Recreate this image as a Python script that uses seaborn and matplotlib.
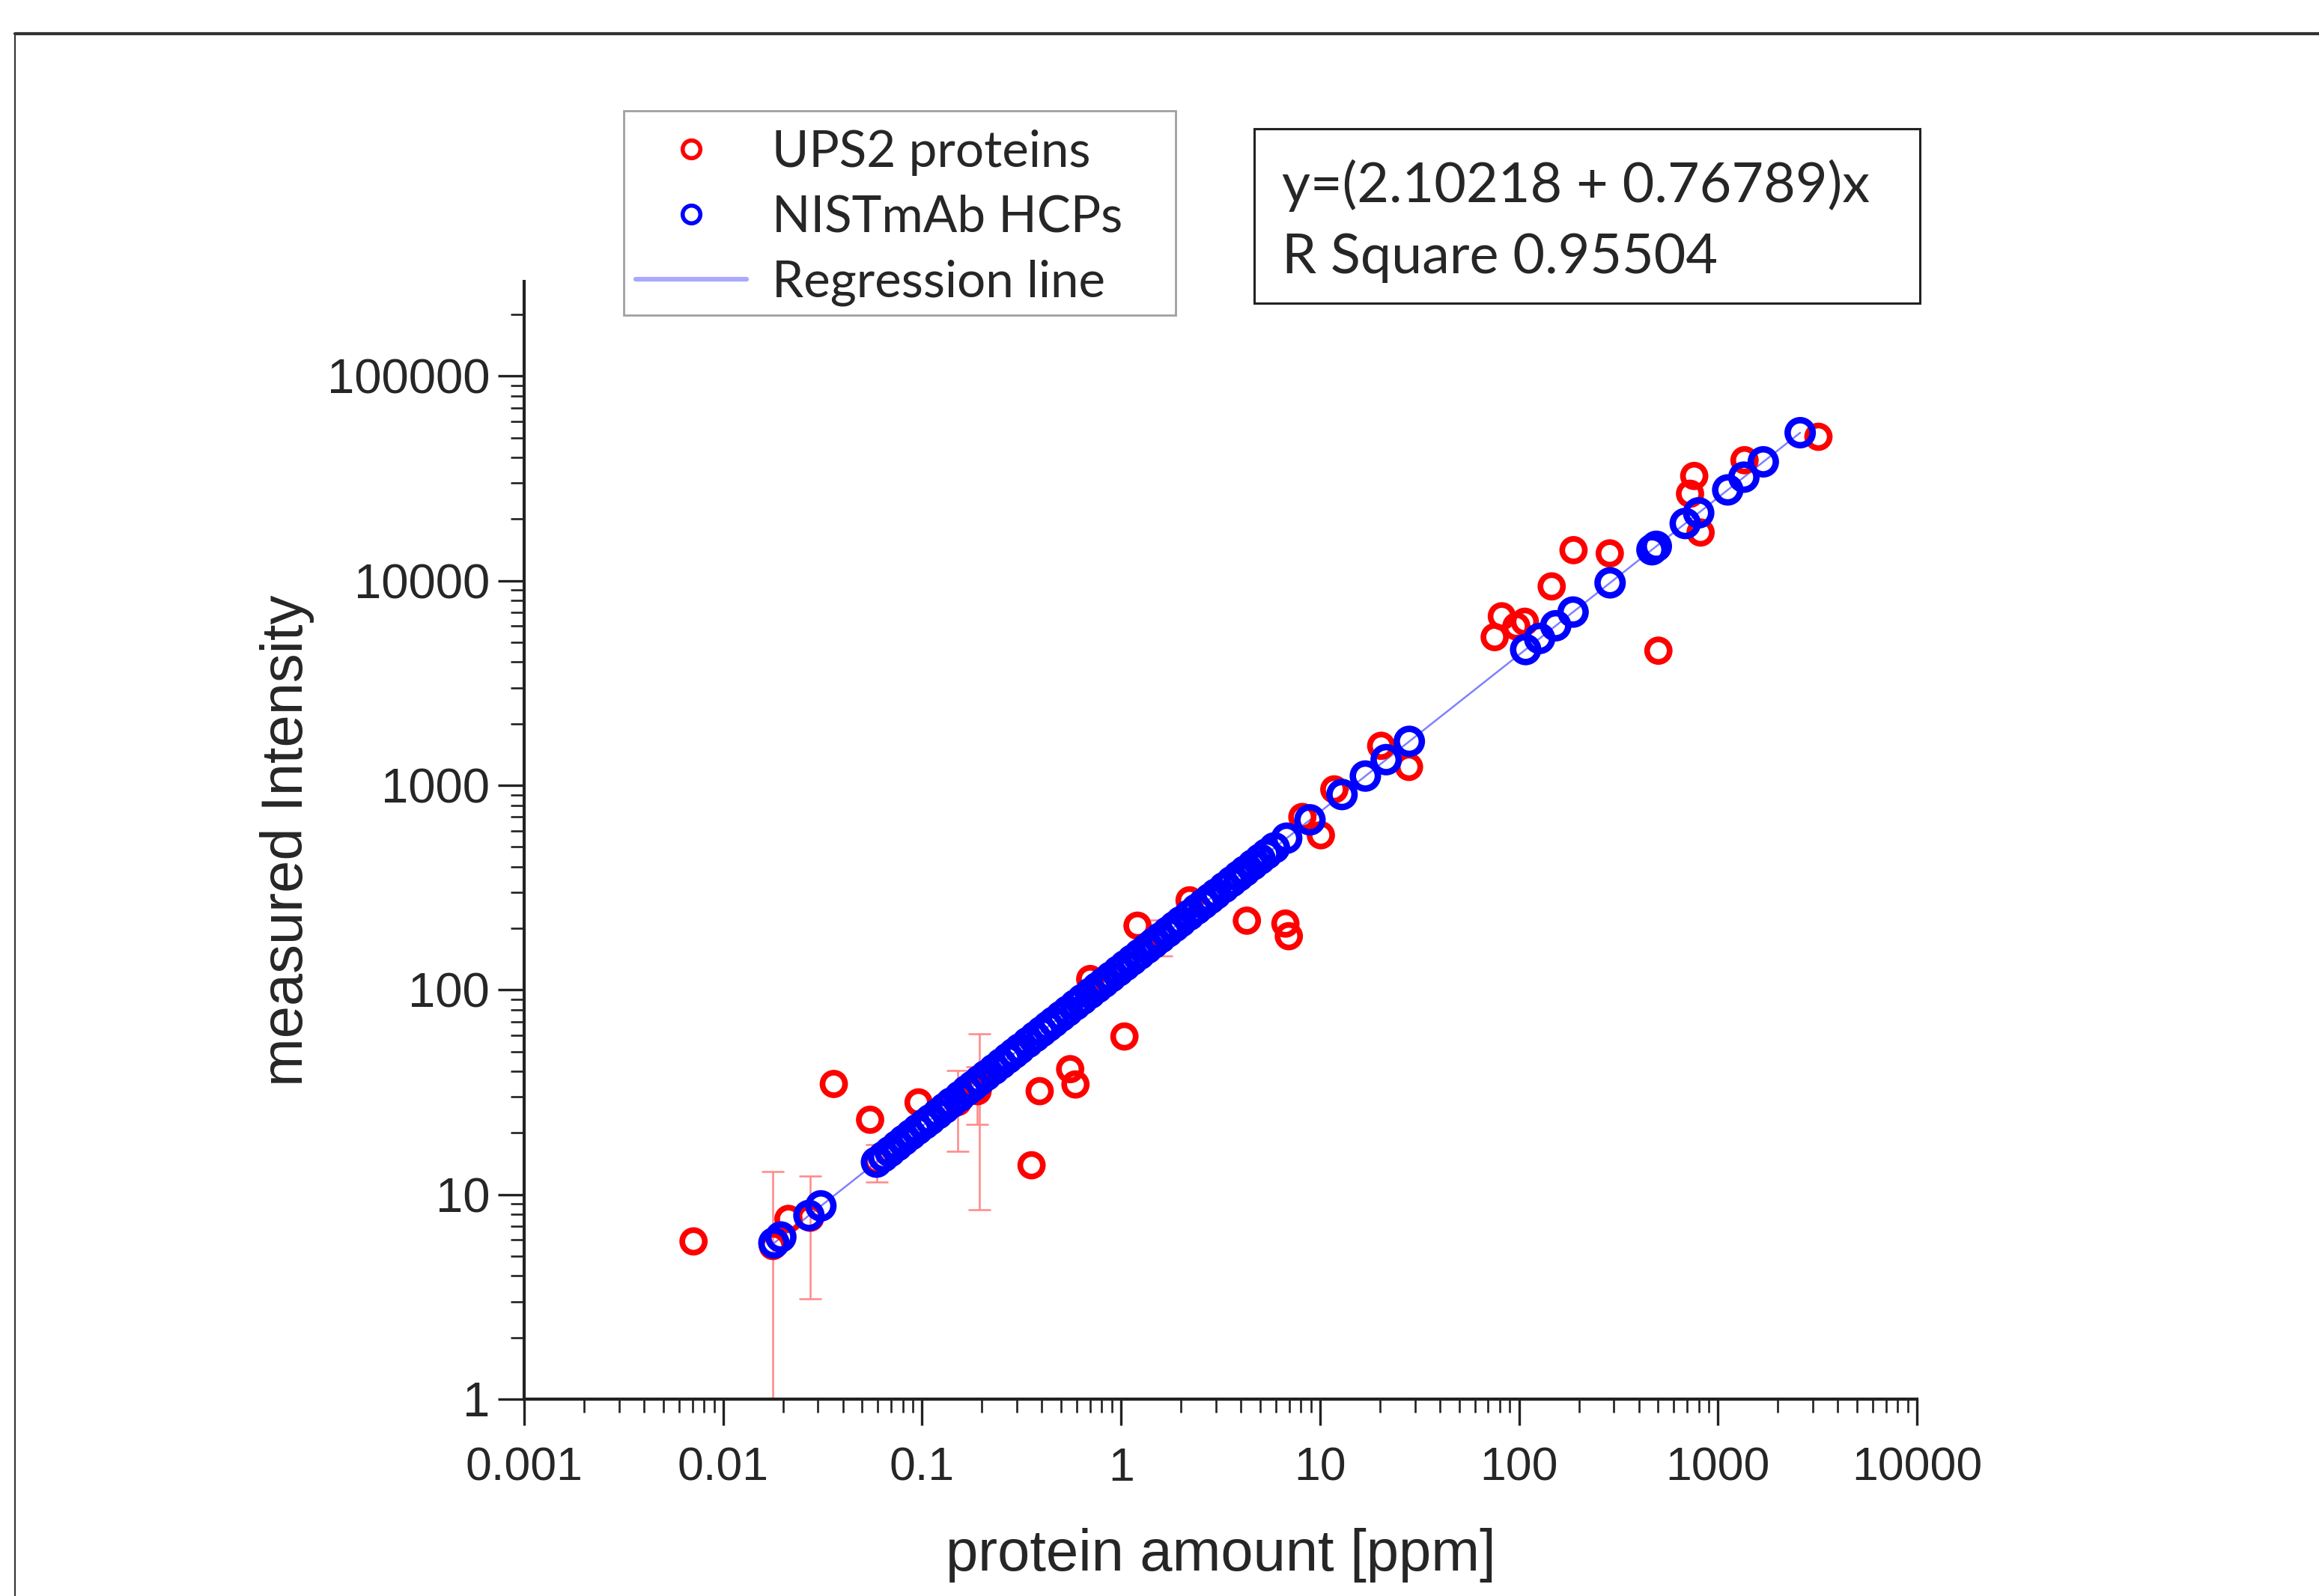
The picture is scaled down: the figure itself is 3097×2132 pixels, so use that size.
import numpy as np
import matplotlib
matplotlib.use("Agg")
import matplotlib.pyplot as plt
from matplotlib.lines import Line2D
from matplotlib.patches import Rectangle
from matplotlib.ticker import FixedLocator, LogLocator, NullFormatter
import seaborn as sns

#%% DATA
# UPS2 spike-in proteins (red)
ups2_amount = [0.0071, 0.0178, 0.0213, 0.0274, 0.036, 0.0548, 0.059, 0.096, 0.151, 0.19,
               0.194, 0.355, 0.39, 0.555, 0.59, 0.70, 1.04, 1.21, 1.6, 2.21,
               4.29, 6.7, 6.97, 8.15, 10.1, 11.8, 20.3, 28.0, 75.5, 82,
               97, 107, 146, 188, 286, 502, 724, 760, 818, 1360, 3200]
ups2_intensity = [5.9, 5.6, 7.6, 7.7, 34.7, 23.2, 14.5, 28.2, 28.3, 32,
                  34.7, 13.9, 32, 41, 34.5, 113, 59.2, 206, 183, 274,
                  218, 211, 183, 700, 570, 955, 1560, 1230, 5300, 6700,
                  5980, 6300, 9380, 14100, 13600, 4550, 26600, 32500, 17200, 38800, 50500]

# UPS2 points that carry replicate error bars
err_amount = [0.0178, 0.0274, 0.059, 0.151, 0.19, 0.194, 1.6]
err_intensity = [5.6, 7.7, 14.5, 28.3, 32, 34.7, 183]
err_sd = [7.4, 4.6, 3.0, 12.0, 10.0, 26.3, 36.0]

# NISTmAb host cell proteins (blue)
hcp_amount = [0.018, 0.0195, 0.027, 0.031,
              0.059, 0.064, 0.069, 0.075, 0.081, 0.088, 0.095, 0.103, 0.11, 0.12,
              0.13, 0.14, 0.155, 0.168, 0.18, 0.195, 0.21, 0.23, 0.25, 0.27,
              0.29, 0.31, 0.34, 0.37, 0.40, 0.43, 0.46, 0.50, 0.54, 0.59,
              0.64, 0.70, 0.76, 0.82, 0.89, 0.97, 1.05, 1.14, 1.24, 1.35,
              1.46, 1.58, 1.72, 1.86, 2.0, 2.2, 2.4, 2.6, 2.8, 3.0,
              3.3, 3.6, 3.9, 4.2, 4.6, 5.0, 5.4, 5.9, 6.8, 8.9,
              12.9, 16.9, 21.5, 28.1, 108, 127, 153, 187, 287, 466,
              490, 685, 800, 1120, 1350, 1690, 2590]
hcp_intensity = [5.8, 6.2, 7.9, 8.8,
                 14.4, 15.3, 16.2, 17.3, 18.4, 19.6, 20.8, 22.1, 23.2, 24.8,
                 26.4, 28.0, 30.2, 32.2, 33.9, 36.1, 38.2, 40.9, 43.6, 46.3,
                 48.9, 51.5, 55.3, 59.0, 62.6, 66.2, 69.7, 74.3, 78.8, 84.4,
                 89.8, 96.2, 102.5, 108.6, 115.7, 123.6, 131.4, 139.9, 149.2, 159.4,
                 169.2, 179.8, 191.9, 203.8, 215.4, 231.8, 247.9, 263.6, 279.0, 294.2,
                 316.5, 338.3, 359.8, 380.8, 408.5, 435.5, 461.9, 494.5, 551.4, 678.1,
                 901.6, 1109.6, 1334.7, 1639.5, 4609, 5220, 6024, 7025, 9763, 14170,
                 14720, 19040, 21460, 27780, 32060, 38100, 52880]

fit_intercept = 2.10218
fit_slope = 0.76789

x_ticks = [0.001, 0.01, 0.1, 1, 10, 100, 1000, 10000]
x_tick_labels = ["0.001", "0.01", "0.1", "1", "10", "100", "1000", "10000"]
y_ticks = [1, 10, 100, 1000, 10000, 100000]
y_tick_labels = ["1", "10", "100", "1000", "10000", "100000"]

#%% STYLE
sns.set_style("ticks")
plt.rcParams["font.family"] = ["Liberation Sans", "DejaVu Sans"]
BOX_FONT = ["Lato", "DejaVu Sans"]

W, H = 3097, 2132
fig = plt.figure(figsize=(W / 100, H / 100), dpi=100)
fig.patch.set_facecolor("white")
ax = fig.add_axes([700 / W, 1 - 1869 / H, (2560 - 700) / W, (1869 - 376) / H])
ax.set_xscale("log")
ax.set_yscale("log")

#%% PLOT
ax.errorbar(
    err_amount, err_intensity, yerr=err_sd,
    fmt="none", ecolor="#ff8888", elinewidth=1.8,
    capsize=11, capthick=1.8, zorder=1
    )

fit_x = np.array([min(hcp_amount), max(hcp_amount)])
fit_y = 10 ** (fit_intercept + fit_slope * np.log10(fit_x))
sns.lineplot(x=fit_x, y=fit_y, ax=ax, color="#8080ff", linewidth=1.8, zorder=2)

sns.scatterplot(
    x=ups2_amount, y=ups2_intensity, ax=ax,
    marker="o", s=470, facecolor="none", edgecolor="#ff0000",
    linewidth=5.5, zorder=3, legend=False
    )
sns.scatterplot(
    x=hcp_amount, y=hcp_intensity, ax=ax,
    marker="o", s=580, facecolor="none", edgecolor="#0000ff",
    linewidth=6.2, zorder=4, legend=False
    )
# make sure the ring widths stick
ax.collections[-2].set_linewidths(5.5)
ax.collections[-1].set_linewidths(6.2)

#%% AXES
ax.set_xlim(0.001, 10000)
ax.set_ylim(1, 2.9e5)
ax.xaxis.set_major_locator(FixedLocator(x_ticks))
ax.set_xticklabels(x_tick_labels)
ax.yaxis.set_major_locator(FixedLocator(y_ticks))
ax.set_yticklabels(y_tick_labels)
for axis in (ax.xaxis, ax.yaxis):
    axis.set_minor_locator(LogLocator(base=10, subs=np.arange(2, 10), numticks=100))
    axis.set_minor_formatter(NullFormatter())

ax.tick_params(which="major", direction="out", length=25, width=2.4, color="#222222")
ax.tick_params(which="minor", direction="out", length=13, width=1.9, color="#222222")
ax.tick_params(axis="x", which="major", labelsize=45, pad=20)
ax.tick_params(axis="y", which="major", labelsize=47, pad=8)
sns.despine(ax=ax)
for side in ("left", "bottom"):
    ax.spines[side].set_linewidth(3)
    ax.spines[side].set_color("#222222")

ax.set_xlabel("protein amount [ppm]", fontsize=56, labelpad=36)
ax.set_ylabel("measured Intensity", fontsize=56, labelpad=12)

#%% LEGEND AND FIT BOX
handles = [
    Line2D([], [], ls="none", marker="o", ms=17, mfc="none", mec="#ff0000", mew=4),
    Line2D([], [], ls="none", marker="o", ms=17, mfc="none", mec="#0000ff", mew=4),
    Line2D([], [], color="#a8a8ff", lw=4.5),
    ]
leg = fig.legend(
    handles, ["UPS2 proteins", "NISTmAb HCPs", "Regression line"],
    loc="center left", bbox_to_anchor=(849 / W, 1 - 291 / H),
    prop={"family": BOX_FONT, "size": 48.5},
    frameon=False, handlelength=2.2, handletextpad=0.5,
    labelspacing=0.37, borderpad=0, borderaxespad=0
    )
fig.add_artist(Rectangle(
    (833 / W, 1 - 421 / H), (1570 - 833) / W, (421 - 148) / H,
    transform=fig.transFigure, fill=False, edgecolor="#a0a0a0", linewidth=2
    ))

fig.add_artist(Rectangle(
    (1675 / W, 1 - 405 / H), (2564 - 1675) / W, (405 - 172) / H,
    transform=fig.transFigure, fill=False, edgecolor="#222222", linewidth=2.2
    ))
fig.text(1712 / W, 1 - 248 / H, "y=(2.10218 + 0.76789)x",
         family=BOX_FONT, fontsize=53, va="center", ha="left")
fig.text(1712 / W, 1 - 345 / H, "R Square 0.95504",
         family=BOX_FONT, fontsize=53, va="center", ha="left")

# outer panel frame (top and left edges)
fig.add_artist(Line2D([20 / W, 1], [1 - 45 / H, 1 - 45 / H],
                      transform=fig.transFigure, color="#333333", lw=3))
fig.add_artist(Line2D([20 / W, 20 / W], [0, 1 - 45 / H],
                      transform=fig.transFigure, color="#333333", lw=1.5))

fig.savefig("out.png", dpi=100)
